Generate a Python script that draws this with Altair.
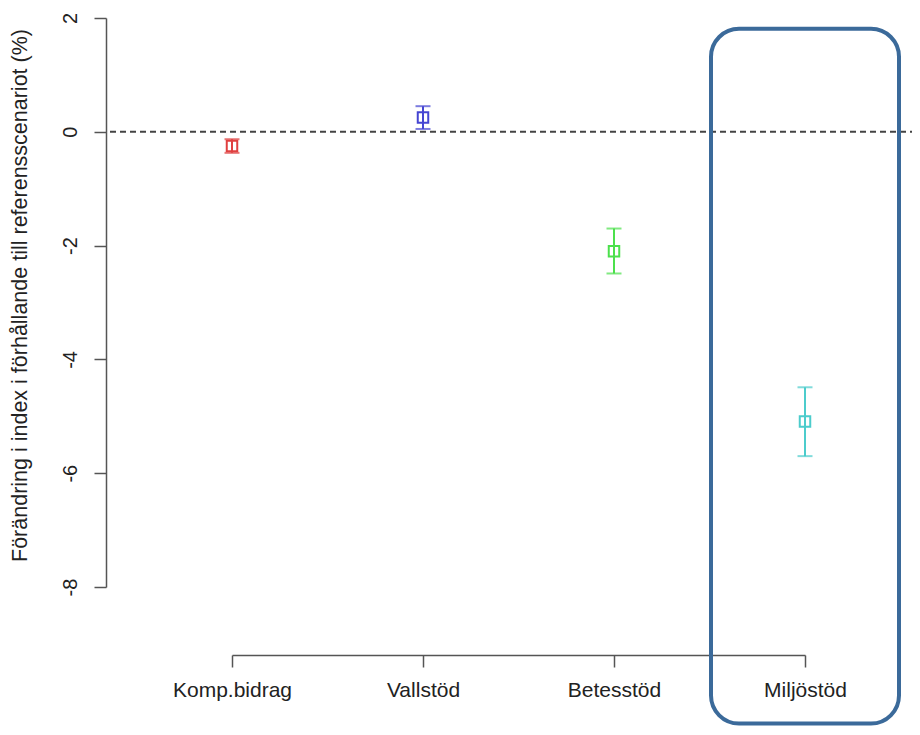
import altair as alt
import pandas as pd

# ---- data ----
categories = ["Komp.bidrag", "Vallstöd", "Betesstöd", "Miljöstöd"]
means = [-0.25, 0.25, -2.10, -5.09]
lowers = [-0.37, 0.05, -2.49, -5.70]
uppers = [-0.13, 0.45, -1.70, -4.49]
colors = ["#E04040", "#4545D2", "#4CE04C", "#4CCCCC"]

y_ticks = [-8, -6, -4, -2, 0, 2]
reference_value = [0]
highlight_category = "Miljöstöd"
highlight_top = [1.81]
highlight_bottom = [-10.40]

y_title = "Förändring i index i förhållande till referensscenariot (%)"

positions = list(range(1, len(categories) + 1))
df = pd.DataFrame({"pos": positions, "cat": categories, "mean": means,
                   "lo": lowers, "hi": uppers})
df_ref = pd.DataFrame({"y": reference_value})
df_box = pd.DataFrame({"pos": [categories.index(highlight_category) + 1],
                       "top": highlight_top, "bottom": highlight_bottom})

W, H = 806, 647
FONT = "Liberation Sans"
AXIS_COLOR = "#555555"

label_array = "[" + ",".join("'" + c + "'" for c in categories) + "]"

xscale = alt.Scale(domain=[1, len(categories)], range=[126, 699],
                   nice=False, zero=False, padding=0)
yscale = alt.Scale(domain=[-8, 2], range=[579, 10], nice=False, zero=False, padding=0)
cscale = alt.Scale(domain=categories, range=colors)

x_axis = alt.Axis(orient="bottom", values=positions,
                  labelExpr=label_array + "[datum.value - 1]",
                  domainColor=AXIS_COLOR, domainWidth=1.5,
                  tickColor=AXIS_COLOR, tickWidth=1.5, tickSize=12,
                  labelAngle=0, labelFont=FONT, labelFontSize=21,
                  labelColor="#222222", labelPadding=12, grid=False,
                  labelFlush=False, labelOverlap=False)
y_axis = alt.Axis(values=y_ticks, labelExpr="'' + datum.value",
                  domainColor=AXIS_COLOR, domainWidth=1.5,
                  tickColor=AXIS_COLOR, tickWidth=1.5, tickSize=12,
                  labelAngle=270, labelAlign="center", labelBaseline="bottom",
                  labelFont=FONT, labelFontSize=20, labelColor="#222222",
                  labelPadding=14, grid=False, labelFlush=False, labelOverlap=False,
                  titleFont=FONT, titleFontSize=21.5, titleFontWeight="normal",
                  titleColor="#222222", titleAngle=270, titleAlign="center",
                  titleBaseline="middle", titleX=-86, titleY=287)


def X():
    return alt.X("pos:Q", scale=xscale, title=None, axis=x_axis)


def Y(field):
    return alt.Y(f"{field}:Q", scale=yscale, axis=y_axis, title=y_title)


color = alt.Color("cat:N", scale=cscale, legend=None)

box = alt.Chart(df_box).mark_bar(
    fill="transparent", stroke="#3B6A9A", strokeWidth=4, cornerRadius=28, width=188
).encode(x=X(), y=Y("top"), y2="bottom:Q")

ref = alt.Chart(df_ref).mark_rule(
    strokeDash=[6, 4], color="#444444", strokeWidth=2
).encode(y=Y("y"), x=alt.value(4), x2=alt.value(W))

bars = alt.Chart(df).mark_rule(strokeWidth=2).encode(
    x=X(), y=Y("lo"), y2="hi:Q", color=color)

cap_lo = alt.Chart(df).mark_tick(orient="horizontal", size=15, thickness=2).encode(
    x=X(), y=Y("lo"), color=color)
cap_hi = alt.Chart(df).mark_tick(orient="horizontal", size=15, thickness=2).encode(
    x=X(), y=Y("hi"), color=color)

pts = alt.Chart(df).mark_point(shape="square", filled=False, size=110,
                               strokeWidth=2, opacity=1).encode(
    x=X(), y=Y("mean"), color=color)

chart = alt.layer(ref, bars, cap_lo, cap_hi, pts, box).properties(
    width=W, height=H,
    autosize=alt.AutoSizeParams(type="none"),
    padding={"left": 98, "top": 0, "right": 0, "bottom": 72},
    background="white",
).configure_view(stroke=None)

chart.save("out.html", embed_options={"renderer": "svg", "actions": False})
